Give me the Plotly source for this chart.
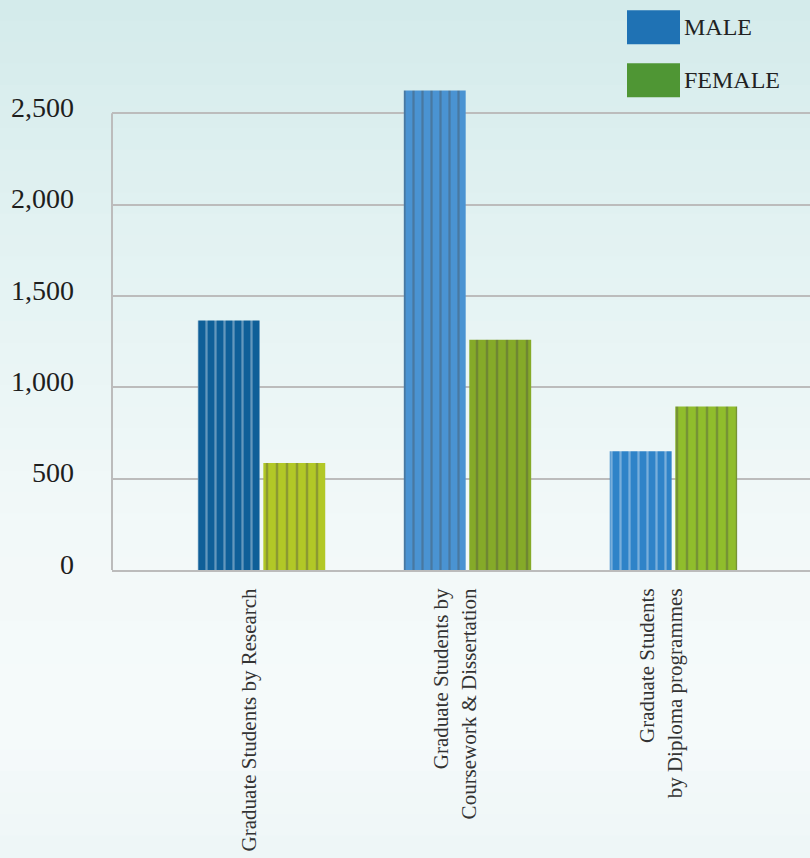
import plotly.graph_objects as go

categories = ["Graduate Students by Research",
              "Graduate Students by<br>Coursework & Dissertation",
              "Graduate Students<br>by Diploma programmes"]
male = [1365, 2625, 650]
female = [585, 1260, 895]
y_ticks = [0, 500, 1000, 1500, 2000, 2500]
series_names = ["MALE", "FEMALE"]

FONT = "Liberation Serif"
GRID = "#bcbcbc"

positions = list(range(len(categories)))

fig = go.Figure()
fig.add_trace(go.Bar(
    x=positions, y=male, name=series_names[0], showlegend=False,
    marker=dict(color=["#0f5f98", "#4a93d2", "#2f83c8"], line=dict(width=0),
                pattern=dict(shape="|", fgcolor="#9cc8ee", fgopacity=0.35, size=9, solidity=0.25)),
))
fig.add_trace(go.Bar(
    x=positions, y=female, name=series_names[1], showlegend=False,
    marker=dict(color=["#b2c826", "#85aa28", "#90bd2c"], line=dict(width=0),
                pattern=dict(shape="|", fgcolor="#e4ee60", fgopacity=0.35, size=10, solidity=0.25)),
))

# layout geometry
W, H = 810, 858
Y_TOP = 2660                      # axis range top (room for the tallest bar)
ml, mr, mb = 112, 0, 288
scale = 457 / 2500                # px per unit
ph = Y_TOP * scale
mt = H - mb - ph
pw = W - ml - mr
px0, px1 = -ml / pw, 1 + mr / pw
py0, py1 = -mb / ph, 1 + mt / ph

# background gradient bands (paper coordinates spanning whole figure)
stops = [(0.0, (212, 235, 235)), (0.3, (228, 243, 243)), (0.6, (242, 249, 249)), (0.85, (246, 251, 251)), (1.0, (238, 246, 247))]

def col_at(t):
    for (a, ca), (b, cb) in zip(stops[:-1], stops[1:]):
        if a <= t <= b:
            f = (t - a) / (b - a)
            return "rgb(%d,%d,%d)" % tuple(int(ca[i] + (cb[i] - ca[i]) * f) for i in range(3))
    return "rgb(%d,%d,%d)" % stops[-1][1]

N = 40
shapes = []
for i in range(N):
    t0, t1 = i / N, (i + 1) / N
    ya = py1 - (py1 - py0) * t0
    yb = py1 - (py1 - py0) * t1
    shapes.append(dict(type="rect", xref="paper", yref="paper", x0=px0, x1=px1, y0=yb, y1=ya + 0.002,
                       fillcolor=col_at((t0 + t1) / 2), line=dict(width=0), layer="below"))

# y axis line from 0 to the top tick only
shapes.append(dict(type="line", xref="paper", yref="y", x0=0, x1=0, y0=0, y1=y_ticks[-1],
                   line=dict(color=GRID, width=2), layer="below"))

# legend swatches
def px_to_paper_x(x):
    return (x - ml) / pw

def px_to_paper_y(y):
    return (H - mb - y) / ph

legend_items = [(series_names[0], "#1f72b4", 10, 44), (series_names[1], "#4f9634", 63, 97)]
annotations = []
for name, c, yt, yb in legend_items:
    shapes.append(dict(type="rect", xref="paper", yref="paper",
                       x0=px_to_paper_x(627), x1=px_to_paper_x(680),
                       y0=px_to_paper_y(yb), y1=px_to_paper_y(yt),
                       fillcolor=c, line=dict(width=0), layer="above"))
    annotations.append(dict(xref="paper", yref="paper", x=px_to_paper_x(682), y=px_to_paper_y((yt + yb) / 2),
                            xanchor="left", yanchor="middle", text=name, showarrow=False,
                            font=dict(family=FONT, size=24, color="#222222")))

fig.update_layout(
    width=W, height=H,
    margin=dict(l=ml, r=mr, t=mt, b=mb, pad=0),
    paper_bgcolor="#eef7f7", plot_bgcolor="rgba(0,0,0,0)",
    barmode="group", bargap=0.364, bargroupgap=0.055,
    shapes=shapes, annotations=annotations,
    showlegend=False,
    xaxis=dict(range=[-0.726, 2.663], tickvals=[p - 0.06 for p in positions], ticktext=categories,
               tickangle=-90, showgrid=False, zeroline=False, showline=True, linecolor=GRID, linewidth=2,
               ticks="", ticklabelstandoff=8,
               tickfont=dict(family=FONT, size=21, color="#333333")),
    yaxis=dict(range=[0, Y_TOP], tickvals=y_ticks, tickformat=",", showgrid=True, gridcolor=GRID, gridwidth=2,
               zeroline=False, showline=False, ticks="",
               ticklabelstandoff=37, ticklabelshift=-6,
               tickfont=dict(family=FONT, size=28, color="#1e1e1e")),
)

fig.write_html("out.html", config={"displayModeBar": False},
               post_script="document.body.style.margin='0';document.body.style.padding='0';")
